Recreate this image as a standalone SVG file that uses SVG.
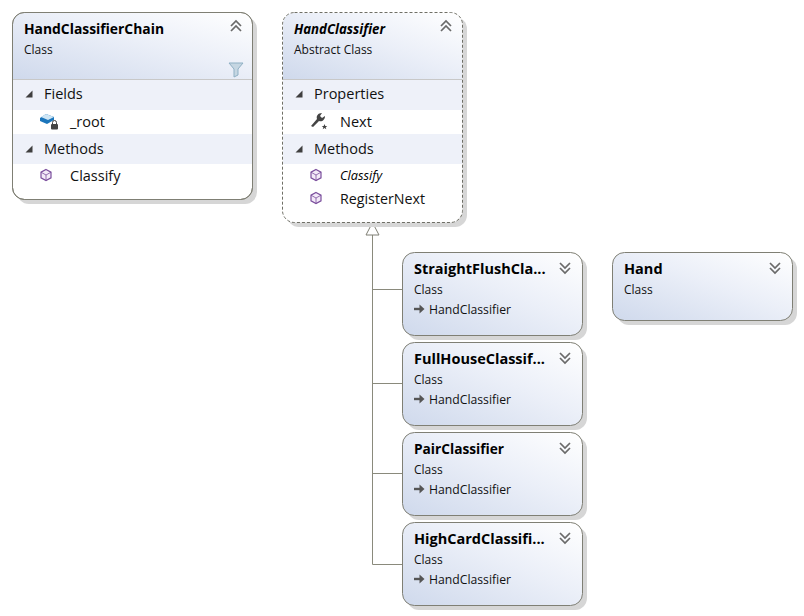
<svg xmlns="http://www.w3.org/2000/svg" width="804" height="616" viewBox="0 0 804 616">
<style>
text{font-family:"Open Sans","Noto Sans","Liberation Sans",sans-serif;fill:#000}
.t{font-size:14.5px;font-weight:700}
.s{font-size:12px;fill:#111}
.r{font-size:14.5px;fill:#111}
.b{fill:url(#g);stroke:#7f7f74;stroke-width:1}
.sh{fill:#d6d6d6}
.w{fill:#fff;stroke:#7f7f74}
.band{fill:#eef1f9}
.sep{stroke:#c8c8c8;stroke-width:1}
.conn{fill:none;stroke:#8a8a7c;stroke-width:1}
.chev{fill:none;stroke:#6a6a6a;stroke-width:1.7}
.tri{fill:#3f3f3f}
.cube{fill:#f3eaf8;stroke:#7b4f9d;stroke-width:1.2}
.cl{fill:none;stroke:#7b4f9d;stroke-width:.8}
</style>
<defs>
<linearGradient id="g" x1="0" y1="1" x2="1" y2="0"><stop offset="0" stop-color="#cfd9ec"/><stop offset=".55" stop-color="#ebeff8"/><stop offset="1" stop-color="#fff"/></linearGradient>
<clipPath id="c1"><rect x="13" y="13" width="239" height="186" rx="11"/></clipPath>
<clipPath id="c2"><rect x="283" y="13" width="179" height="209" rx="11"/></clipPath>
<g id="up"><path class="chev" d="M-5 -1l5-5 5 5M-5 4l5-5 5 5"/></g>
<g id="down"><path class="chev" d="M-5 -4l5 5 5-5M-5 1l5 5 5-5"/></g>
<g id="exp"><path class="tri" d="M-3.500 3.500h7v-7z"/></g>
<g id="cube"><path class="cube" d="M0-5.500l5 2.700v5.600l-5 2.700-5-2.700v-5.600z"/><path class="cl" d="M-5-2.800l5 2.800 5-2.800M0 0v5.500"/></g>
<g id="arr"><path d="M0 0h8" stroke="#555" stroke-width="2.400"/><path d="M5.500-4.500l5 4.500-5 4.500z" fill="#555"/></g>
</defs>

<g id="connectors">
<path class="conn" d="M372.500 235V564.500H402.500M372.500 289.500H402.500M372.500 383.500H402.500M372.500 473.500H402.500"/>
<path d="M372.500 222.500L379 235H366z" fill="#fff" stroke="#7f7f74"/>
</g>

<g id="HandClassifierChain">
<rect class="sh" x="17" y="17" width="240" height="187" rx="12"/>
<rect class="w" x="12.500" y="12.500" width="240" height="187" rx="12"/>
<g clip-path="url(#c1)">
<rect x="13" y="13" width="239" height="66" fill="url(#g)"/>
<rect class="band" x="13" y="80" width="239" height="30"/>
<rect class="band" x="13" y="134" width="239" height="30"/>
<path class="sep" d="M13 79.500H252"/>
</g>
<rect x="12.500" y="12.500" width="240" height="187" rx="12" fill="none" stroke="#7f7f74"/>
<text class="t" x="24" y="34" textLength="140" lengthAdjust="spacingAndGlyphs">HandClassifierChain</text>
<text class="s" x="24" y="54">Class</text>
<use href="#up" x="236" y="27"/>
<path d="M229 63h14l-5 6v6l-4 2v-8z" fill="#c5d6e2" stroke="#8fb0c4" stroke-width="1"/>
<use href="#exp" x="29" y="94"/>
<text class="r" x="44" y="99">Fields</text>
<path d="M40 118l6-4 8 3v3l-7 4-7-3z" fill="#1b75bb"/><path d="M46 114l8 3-6 3-7-3z" fill="#cfe6f5"/>
<rect x="51" y="124" width="7" height="5.500" rx="1" fill="#444"/><path d="M52.500 124v-1.500a2 2 0 0 1 4 0V124" fill="none" stroke="#444"/>
<text class="r" x="70" y="127">_root</text>
<use href="#exp" x="29" y="149"/>
<text class="r" x="44" y="154">Methods</text>
<use href="#cube" x="46" y="175"/>
<text class="r" x="70" y="181">Classify</text>
</g>

<g id="HandClassifier">
<rect class="sh" x="287" y="17" width="180" height="210" rx="12"/>
<rect x="282.500" y="12.500" width="180" height="210" rx="12" fill="#fff"/>
<g clip-path="url(#c2)">
<rect x="283" y="13" width="179" height="66" fill="url(#g)"/>
<rect class="band" x="283" y="80" width="179" height="30"/>
<rect class="band" x="283" y="134" width="179" height="30"/>
<path class="sep" d="M283 79.500H462"/>
</g>
<rect x="282.500" y="12.500" width="180" height="210" rx="12" fill="none" stroke="#6f6f66" stroke-dasharray="3 2"/>
<text class="t" x="294" y="34" font-style="italic" textLength="91" lengthAdjust="spacingAndGlyphs">HandClassifier</text>
<text class="s" x="294" y="54">Abstract Class</text>
<use href="#up" x="446" y="27"/>
<use href="#exp" x="299" y="94"/>
<text class="r" x="314" y="99">Properties</text>
<path d="M311 126l6-7c-1-3 1-6 5-6l-2 3 2 2 3-2c0 4-3 6-6 5l-6 6z" fill="#444"/>
<path d="M324.500 124l.8 2h2l-1.600 1.300.6 2-1.800-1.200-1.800 1.200.6-2-1.600-1.300h2z" fill="#444"/>
<text class="r" x="340" y="127">Next</text>
<use href="#exp" x="299" y="149"/>
<text class="r" x="314" y="154">Methods</text>
<use href="#cube" x="316" y="175"/>
<text x="340" y="180" font-size="12" font-style="italic" fill="#111" textLength="42" lengthAdjust="spacingAndGlyphs">Classify</text>
<use href="#cube" x="316" y="198"/>
<text class="r" x="340" y="204" textLength="85" lengthAdjust="spacingAndGlyphs">RegisterNext</text>
</g>

<g id="StraightFlushClassifier">
<rect class="sh" x="407" y="257" width="180" height="83" rx="12"/>
<rect class="b" x="402.500" y="252.500" width="180" height="83" rx="12"/>
<text class="t" x="414" y="274">StraightFlushCla...</text>
<text class="s" x="414" y="294">Class</text>
<use href="#arr" x="414" y="309"/>
<text class="s" x="429" y="314" textLength="82" lengthAdjust="spacingAndGlyphs">HandClassifier</text>
<use href="#down" x="565" y="267"/>
</g>

<g id="FullHouseClassifier">
<rect class="sh" x="407" y="347" width="180" height="83" rx="12"/>
<rect class="b" x="402.500" y="342.500" width="180" height="83" rx="12"/>
<text class="t" x="414" y="364">FullHouseClassif...</text>
<text class="s" x="414" y="384">Class</text>
<use href="#arr" x="414" y="399"/>
<text class="s" x="429" y="404" textLength="82" lengthAdjust="spacingAndGlyphs">HandClassifier</text>
<use href="#down" x="565" y="357"/>
</g>

<g id="PairClassifier">
<rect class="sh" x="407" y="437" width="180" height="83" rx="12"/>
<rect class="b" x="402.500" y="432.500" width="180" height="83" rx="12"/>
<text class="t" x="414" y="454" textLength="90" lengthAdjust="spacingAndGlyphs">PairClassifier</text>
<text class="s" x="414" y="474">Class</text>
<use href="#arr" x="414" y="489"/>
<text class="s" x="429" y="494" textLength="82" lengthAdjust="spacingAndGlyphs">HandClassifier</text>
<use href="#down" x="565" y="447"/>
</g>

<g id="HighCardClassifier">
<rect class="sh" x="407" y="527" width="180" height="83" rx="12"/>
<rect class="b" x="402.500" y="522.500" width="180" height="83" rx="12"/>
<text class="t" x="414" y="544">HighCardClassifi...</text>
<text class="s" x="414" y="564">Class</text>
<use href="#arr" x="414" y="579"/>
<text class="s" x="429" y="584" textLength="82" lengthAdjust="spacingAndGlyphs">HandClassifier</text>
<use href="#down" x="565" y="537"/>
</g>

<g id="Hand">
<rect class="sh" x="617" y="257" width="180" height="68" rx="12"/>
<rect class="b" x="612.500" y="252.500" width="180" height="68" rx="12"/>
<text class="t" x="624" y="274">Hand</text>
<text class="s" x="624" y="294">Class</text>
<use href="#down" x="775" y="267"/>
</g>
</svg>
